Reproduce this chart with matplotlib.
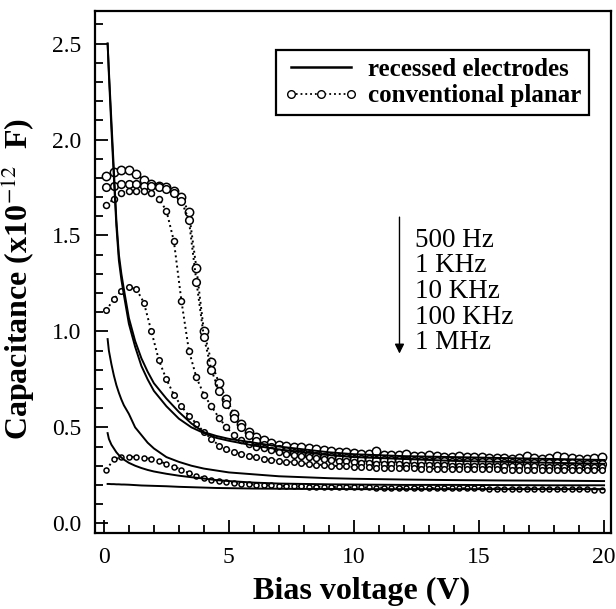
import numpy as np
import matplotlib
matplotlib.use("Agg")
import matplotlib.pyplot as plt
from matplotlib.lines import Line2D
from matplotlib.ticker import MultipleLocator

plt.rcParams['font.family'] = ['Liberation Serif', 'DejaVu Serif']
plt.rcParams['mathtext.fontset'] = 'stix'

# Recessed electrodes (solid lines), bias voltage in V, capacitance in 1e-12 F
x_rec = [0.15, 0.2, 0.3, 0.4, 0.5, 0.6, 0.7, 0.8, 1.0, 1.25, 1.5, 1.75, 2.0, 2.5,
         3.0, 3.5, 4.0, 4.5, 5, 6, 7, 8, 9, 10, 12, 14, 16, 18, 20]
rec_500hz = [2.50, 2.36, 2.10, 1.84, 1.58, 1.40, 1.30, 1.22, 1.07, 0.95, 0.86, 0.79, 0.73, 0.65,
             0.58, 0.52, 0.475, 0.455, 0.44, 0.42, 0.40, 0.385, 0.37, 0.36, 0.35, 0.345, 0.34, 0.335, 0.33]
rec_1khz = [2.50, 2.34, 2.06, 1.80, 1.55, 1.37, 1.27, 1.19, 1.04, 0.92, 0.82, 0.75, 0.69, 0.61,
            0.545, 0.50, 0.47, 0.445, 0.43, 0.405, 0.385, 0.37, 0.355, 0.345, 0.335, 0.325, 0.32, 0.315, 0.31]
rec_10khz = [0.96, 0.90, 0.83, 0.77, 0.72, 0.68, 0.645, 0.615, 0.57, 0.50, 0.46, 0.42, 0.39, 0.345,
             0.32, 0.30, 0.285, 0.275, 0.265, 0.255, 0.245, 0.24, 0.235, 0.232, 0.228, 0.225, 0.223, 0.222, 0.22]
rec_100khz = [0.47, 0.44, 0.41, 0.39, 0.37, 0.355, 0.343, 0.332, 0.315, 0.30, 0.288, 0.278, 0.27, 0.258,
              0.248, 0.24, 0.233, 0.225, 0.22, 0.212, 0.207, 0.205, 0.203, 0.202, 0.20, 0.20, 0.199, 0.198, 0.198]
rec_1mhz = [0.205, 0.205, 0.204, 0.204, 0.203, 0.203, 0.202, 0.202, 0.201, 0.199, 0.197, 0.196, 0.195, 0.193,
            0.19, 0.188, 0.186, 0.184, 0.183, 0.181, 0.18, 0.179, 0.179, 0.178, 0.178, 0.178, 0.178, 0.178, 0.178]

# Conventional planar (dotted + open circles), measured every 0.3 V
x_conv = np.round(np.arange(0.1, 20.0, 0.3), 2)
conv_500hz = [1.81, 1.83, 1.84, 1.84, 1.82, 1.79, 1.77, 1.76, 1.75, 1.73,
              1.70, 1.62, 1.33, 1.00, 0.84, 0.73, 0.65, 0.57, 0.52, 0.475,
              0.45, 0.435, 0.42, 0.41, 0.405, 0.40, 0.395, 0.39, 0.385, 0.38,
              0.375, 0.372, 0.37, 0.365, 0.362, 0.36, 0.375, 0.358, 0.356, 0.355,
              0.36, 0.352, 0.35, 0.355, 0.35, 0.348, 0.347, 0.35, 0.345, 0.344,
              0.343, 0.342, 0.34, 0.338, 0.336, 0.34, 0.352, 0.338, 0.336, 0.34,
              0.352, 0.345, 0.338, 0.336, 0.333, 0.34, 0.348]
conv_1khz = [1.75, 1.76, 1.77, 1.77, 1.77, 1.76, 1.76, 1.75, 1.74, 1.72,
             1.68, 1.58, 1.26, 0.97, 0.80, 0.69, 0.62, 0.55, 0.50, 0.46,
             0.43, 0.41, 0.395, 0.385, 0.375, 0.368, 0.362, 0.356, 0.352, 0.348,
             0.345, 0.342, 0.34, 0.337, 0.335, 0.333, 0.332, 0.33, 0.329, 0.328,
             0.327, 0.326, 0.325, 0.324, 0.323, 0.322, 0.321, 0.32, 0.32, 0.319,
             0.318, 0.318, 0.317, 0.316, 0.316, 0.315, 0.315, 0.314, 0.314, 0.313,
             0.313, 0.312, 0.312, 0.311, 0.311, 0.31, 0.31]
conv_10khz = [1.66, 1.69, 1.72, 1.73, 1.73, 1.73, 1.72, 1.69, 1.63, 1.47,
              1.16, 0.90, 0.76, 0.67, 0.61, 0.55, 0.50, 0.46, 0.435, 0.415,
              0.40, 0.39, 0.38, 0.37, 0.362, 0.355, 0.35, 0.345, 0.34, 0.335,
              0.33, 0.326, 0.322, 0.318, 0.315, 0.313, 0.311, 0.31, 0.308, 0.307,
              0.306, 0.305, 0.304, 0.303, 0.302, 0.302, 0.301, 0.30, 0.30, 0.299,
              0.299, 0.298, 0.298, 0.297, 0.297, 0.296, 0.296, 0.296, 0.295, 0.295,
              0.295, 0.294, 0.294, 0.294, 0.293, 0.293, 0.293]
conv_100khz = [1.11, 1.17, 1.21, 1.23, 1.22, 1.15, 1.00, 0.85, 0.75, 0.67,
               0.61, 0.56, 0.52, 0.475, 0.44, 0.405, 0.385, 0.372, 0.362, 0.352,
               0.343, 0.337, 0.331, 0.326, 0.321, 0.317, 0.313, 0.309, 0.306, 0.303,
               0.30, 0.298, 0.296, 0.294, 0.292, 0.291, 0.29, 0.289, 0.288, 0.287,
               0.286, 0.286, 0.285, 0.285, 0.284, 0.284, 0.283, 0.283, 0.282, 0.282,
               0.282, 0.281, 0.281, 0.28, 0.28, 0.28, 0.28, 0.279, 0.279, 0.279,
               0.278, 0.278, 0.278, 0.277, 0.277, 0.277, 0.276]
conv_1mhz = [0.28, 0.333, 0.343, 0.346, 0.346, 0.342, 0.335, 0.323, 0.31, 0.295,
             0.28, 0.262, 0.248, 0.236, 0.228, 0.22, 0.214, 0.21, 0.206, 0.204,
             0.202, 0.199, 0.197, 0.195, 0.194, 0.193, 0.192, 0.191, 0.19, 0.19,
             0.189, 0.189, 0.188, 0.188, 0.187, 0.187, 0.186, 0.186, 0.186, 0.185,
             0.185, 0.185, 0.184, 0.184, 0.184, 0.183, 0.183, 0.183, 0.182, 0.182,
             0.182, 0.181, 0.181, 0.181, 0.18, 0.18, 0.18, 0.179, 0.179, 0.179,
             0.178, 0.178, 0.178, 0.177, 0.177, 0.176, 0.176]

freq_labels = ["500 Hz", "1 KHz", "10 KHz", "100 KHz", "1 MHz"]

fig = plt.figure(figsize=(6.16, 6.09), dpi=100)
ax = fig.add_axes([0.154, 0.125, 0.838, 0.857])

# conventional planar curves, bigger circles for lower frequency
conv_sets = [conv_500hz, conv_1khz, conv_10khz, conv_100khz, conv_1mhz]
sizes = [6.0, 5.5, 4.3, 4.0, 3.6]
for ys, ms in zip(conv_sets, sizes):
    ax.plot(x_conv, ys, linestyle=':', color='black', lw=1.4,
            marker='o', ms=ms, mfc='white', mec='black', mew=1.1)

# recessed electrodes curves
for ys in [rec_500hz, rec_1khz, rec_10khz, rec_100khz, rec_1mhz]:
    ax.plot(x_rec, ys, '-', color='black', lw=1.4)

ax.set_xlim(-0.36, 20.28)
ax.set_ylim(-0.05, 2.67)
ax.xaxis.set_major_locator(MultipleLocator(5))
ax.xaxis.set_minor_locator(MultipleLocator(1))
ax.yaxis.set_major_locator(MultipleLocator(0.5))
ax.yaxis.set_minor_locator(MultipleLocator(0.1))
ax.yaxis.set_major_formatter(matplotlib.ticker.FormatStrFormatter('%.1f'))
ax.tick_params(which='both', direction='in', top=False, right=False, width=1.3)
ax.tick_params(which='major', length=9.5, labelsize=17, pad=10)
ax.tick_params(which='minor', length=6)
for sp in ax.spines.values():
    sp.set_linewidth(1.6)

ax.set_xlabel("Bias voltage (V)", fontsize=23, fontweight='bold')
ax.xaxis.set_label_coords(0.516, -0.084)
ax.set_ylabel(r"Capacitance (x10$^{-12}$  F)", fontsize=23, fontweight='bold')
ax.yaxis.set_label_coords(-0.112, 0.487)

# frequency arrow and labels
ax.annotate('', xy=(11.82, 0.87), xytext=(11.82, 1.61),
            arrowprops=dict(arrowstyle='-|>', color='black', lw=1.0, mutation_scale=14))
for i, lab in enumerate(freq_labels):
    ax.text(12.45, 1.476 - 0.134 * i, lab, fontsize=19.5, va='center', ha='left')

handles = [Line2D([], [], color='black', lw=1.8),
           Line2D([], [], color='black', lw=1.3, linestyle=':', marker='o',
                  ms=5.5, mfc='white', mec='black', mew=1.0)]
leg = ax.legend(handles, ["recessed electrodes", "conventional planar"],
                loc='upper right', bbox_to_anchor=(0.957, 0.925), numpoints=3,
                prop={'weight': 'bold', 'size': 18}, fancybox=False, framealpha=1,
                edgecolor='black', handlelength=3.0, handletextpad=0.4,
                borderpad=0.3, labelspacing=0.15, borderaxespad=0)
leg.get_frame().set_linewidth(1.6)

fig.savefig("out.png", dpi=100)
